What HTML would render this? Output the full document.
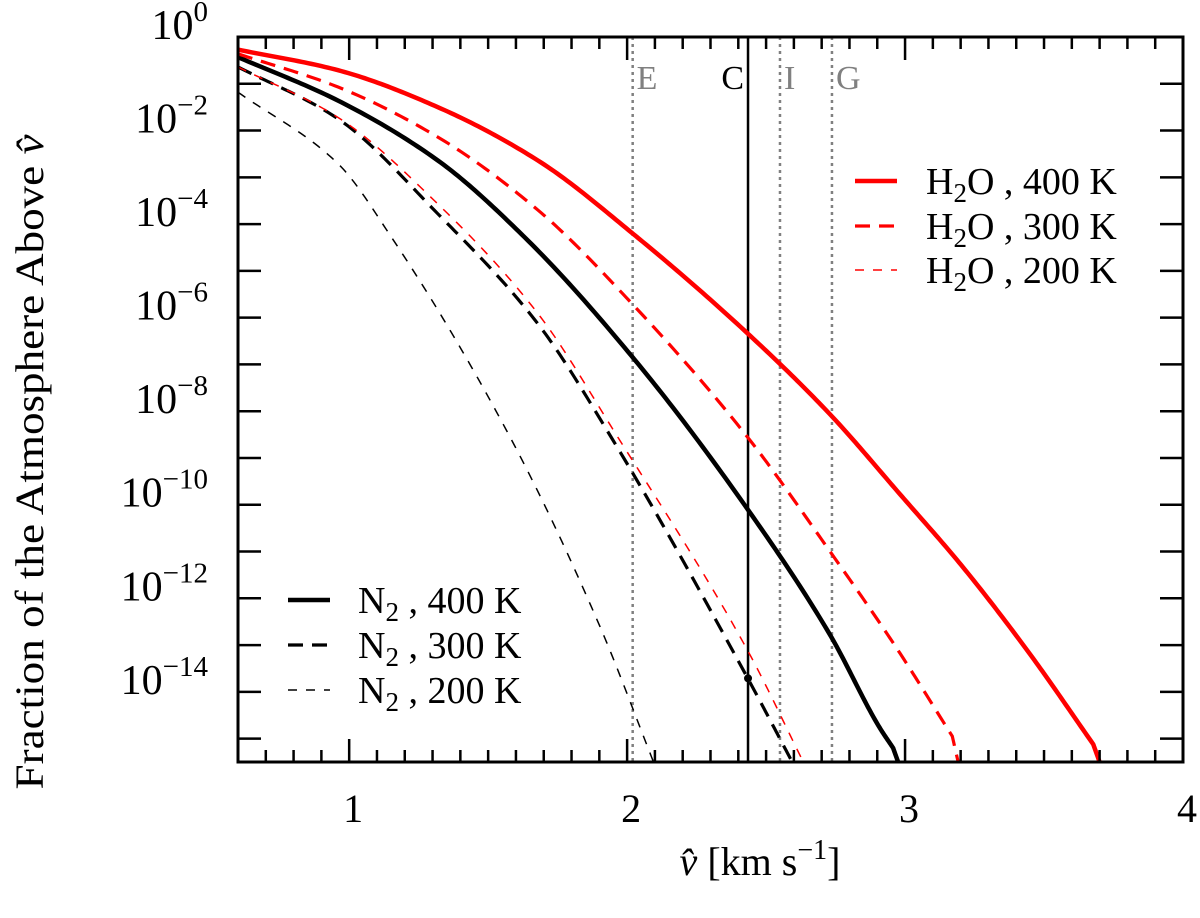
<!DOCTYPE html>
<html><head><meta charset="utf-8"><style>
html,body{margin:0;padding:0;background:#fff;}
svg{display:block;font-family:"Liberation Serif",serif;}
</style></head><body>
<svg id="chart" width="1200" height="918" xmlns="http://www.w3.org/2000/svg">
<g id="grid"></g>
<g id="series"></g>
<g id="axes"></g>
<g id="legend"></g>
</svg>
<script>
const h2o400X = [0.6, 0.96, 1.319, 1.679, 2.03, 2.434, 2.729, 2.981, 3.209, 3.449, 3.677, 3.70];
const h2o400Y = [-0.27, -0.71, -1.5, -2.64, -4.25, -6.34, -8.06, -9.77, -11.34, -13.19, -15.12, -15.5];
const h2o300X = [0.6, 0.96, 1.319, 1.679, 2.03, 2.434, 2.729, 2.969, 3.17, 3.191];
const h2o300Y = [-0.36, -1.07, -2.14, -3.7, -5.78, -8.56, -10.99, -13.06, -14.95, -15.5];
const h2o200X = [0.6, 0.96, 1.319, 1.68, 1.967, 2.434, 2.634];
const h2o200Y = [-0.64, -1.72, -3.57, -5.92, -8.56, -13.12, -15.5];
const n2400X = [0.6, 0.96, 1.319, 1.631, 2.03, 2.434, 2.729, 2.909, 2.957, 2.975];
const n2400Y = [-0.43, -1.36, -2.64, -4.28, -6.92, -10.1, -12.77, -14.77, -15.2, -15.5];
const n2300X = [0.6, 0.96, 1.319, 1.68, 1.943, 2.434, 2.594];
const n2300Y = [-0.64, -1.75, -3.78, -6.14, -8.56, -13.71, -15.5];
const n2200X = [0.6, 0.96, 1.152, 1.583, 1.902, 2.095];
const n2200Y = [-1.18, -2.71, -4.28, -8.6, -12.6, -15.5];
const markLines = [2.02, 2.435, 2.55, 2.737];
const markLabels = ["E", "C", "I", "G"];
const markColors = ["#808080", "#000", "#808080", "#808080"];
const xTicks = [1, 2, 3, 4];
const yTicks = [0, -2, -4, -6, -8, -10, -12, -14];
const dotX = 2.435, dotLog = -13.71;

const L=238,R=1183,T=37,B=762,XMIN=0.6,XMAX=4,YMAX=0,YMIN=-15.5;
const sx=v=>L+(v-XMIN)/(XMAX-XMIN)*(R-L);
const sy=v=>T+(YMAX-v)/(YMAX-YMIN)*(B-T);
const NS="http://www.w3.org/2000/svg";
function mk(tag,attrs,parent){const e=document.createElementNS(NS,tag);for(const k in attrs)e.setAttribute(k,attrs[k]);parent.appendChild(e);return e;}
const series=document.getElementById('series'),axes=document.getElementById('axes'),grid=document.getElementById('grid'),legend=document.getElementById('legend');

function pathFor(X,Y){
  const n=X.length,h=[],s=[],mL=[],mR=[];
  for(let i=0;i<n-1;i++){h.push(X[i+1]-X[i]);s.push((Y[i+1]-Y[i])/h[i]);}
  mR[0]=s[0];mL[n-1]=s[n-2];
  for(let i=1;i<n-1;i++){
    const w1=2*h[i]+h[i-1],w2=h[i]+2*h[i-1];
    const m=(w1+w2)/(w1/s[i-1]+w2/s[i]);
    mL[i]=m;mR[i]=m;
  }
  const k=n-2;
  if(k>0&&Math.abs(s[k])>1.8*Math.abs(s[k-1])){mL[k]=s[k-1];mR[k]=s[k];mL[k+1]=s[k];}
  let d='';
  for(let i=0;i<n-1;i++){
    const N=30,a=mR[i],b=mL[i+1];
    for(let j=(i===0?0:1);j<=N;j++){
      const t=j/N,t2=t*t,t3=t2*t;
      const y=(2*t3-3*t2+1)*Y[i]+(t3-2*t2+t)*h[i]*a+(-2*t3+3*t2)*Y[i+1]+(t3-t2)*h[i]*b;
      const x=X[i]+t*h[i];
      d+=(d?' L':'M')+sx(x).toFixed(2)+','+sy(Math.max(y,YMIN)).toFixed(2);
    }
  }
  return d;
}
const defs=[
 [n2200X,n2200Y,'#000',1.5,'9,9','n2-200k-curve'],
 [n2300X,n2300Y,'#000',3.2,'15,9','n2-300k-curve'],
 [h2o200X,h2o200Y,'#f00',1.5,'9,9','h2o-200k-curve'],
 [n2400X,n2400Y,'#000',4.5,'','n2-400k-curve'],
 [h2o300X,h2o300Y,'#f00',3.2,'15,9','h2o-300k-curve'],
 [h2o400X,h2o400Y,'#f00',4.5,'','h2o-400k-curve'],
];
markLines.forEach((v,i)=>{
  const ln=mk('line',{x1:sx(v),x2:sx(v),y1:T,y2:B,stroke:markColors[i],'stroke-width':2.5,'stroke-dasharray':i===1?'':'3,4'},grid);
  
  
  const t=mk('text',{x:i===1?sx(v)-4:sx(v)+4,y:89,'font-size':34,fill:markColors[i],'text-anchor':i===1?'end':'start'},grid);
  t.textContent=markLabels[i];
  
  
});
defs.forEach(s=>{
  const p=mk('path',{d:pathFor(s[0],s[1]),fill:'none',stroke:s[2],'stroke-width':s[3],'stroke-dasharray':s[4],'stroke-linejoin':'round'},series);
  
  
});
const dot=mk('circle',{cx:sx(dotX),cy:sy(dotLog),r:4,fill:'#000'},series);



const fr=mk('rect',{x:L,y:T,width:R-L,height:B-T,fill:'none',stroke:'#000','stroke-width':3},axes);


for(let k=7;k<=39;k++){
  const v=k/10,maj=k%10===0,len=maj?23:12,x=sx(v);
  const a=mk('line',{x1:x,x2:x,y1:B,y2:B-len,stroke:'#000','stroke-width':2.5},axes);
  
  
  const b=mk('line',{x1:x,x2:x,y1:T,y2:T+len,stroke:'#000','stroke-width':2.5},axes);
  
  
}
xTicks.forEach(v=>{
  const t=mk('text',{x:sx(v)+4,y:822,'font-size':40,'text-anchor':'middle'},axes);
  t.textContent=v;
  
  
});
for(let k=-1;k>=-15;k--){
  const y=sy(k);
  const a=mk('line',{x1:L,x2:L+23,y1:y,y2:y,stroke:'#000','stroke-width':2.5},axes);
  
  
  const b=mk('line',{x1:R,x2:R-23,y1:y,y2:y,stroke:'#000','stroke-width':2.5},axes);
  
  
}
yTicks.forEach(v=>{
  const t=mk('text',{x:208,y:sy(v)+2,'font-size':42,'text-anchor':'end'},axes);
  t.innerHTML='10<tspan dy="-18" font-size="29">'+(v===0?'0':'\u2212'+(-v))+'</tspan>';
  
  
});
const xt=mk('text',{x:760,y:875,'font-size':40,'text-anchor':'middle'},axes);
xt.innerHTML='<tspan font-style="italic">v̂</tspan> [km s<tspan dy="-16" font-size="28">\u22121</tspan><tspan dy="16">]</tspan>';


const yt=mk('text',{x:0,y:0,'font-size':40,'text-anchor':'middle',textLength:655,lengthAdjust:'spacingAndGlyphs',transform:'translate(43,462) rotate(-90)'},axes);
yt.innerHTML='Fraction of the Atmosphere Above <tspan font-style="italic">v̂</tspan>';



const legItems=[
 [855,181,'#f00',4.5,'','H','2','O , 400 K','legend-h2o-400k',926],
 [855,226,'#f00',3.2,'15,9','H','2','O , 300 K','legend-h2o-300k',926],
 [855,270,'#f00',1.5,'9,9','H','2','O , 200 K','legend-h2o-200k',926],
 [288,600,'#000',4.5,'','N','2',' , 400 K','legend-n2-400k',358],
 [288,645,'#000',3.2,'15,9','N','2',' , 300 K','legend-n2-300k',358],
 [288,690,'#000',1.5,'9,9','N','2',' , 200 K','legend-n2-200k',358],
];
legItems.forEach(it=>{
  const g=mk('g',{},legend);
  
  
  mk('line',{x1:it[0],x2:it[0]+42,y1:it[1],y2:it[1],stroke:it[2],'stroke-width':it[3],'stroke-dasharray':it[4]},g);
  const t=mk('text',{x:it[9],y:it[1]+13,'font-size':38},g);
  t.innerHTML=it[5]+'<tspan dy="8" font-size="27">'+it[6]+'</tspan><tspan dy="-8">'+it[7]+'</tspan>';
});
</script>
</body></html>
